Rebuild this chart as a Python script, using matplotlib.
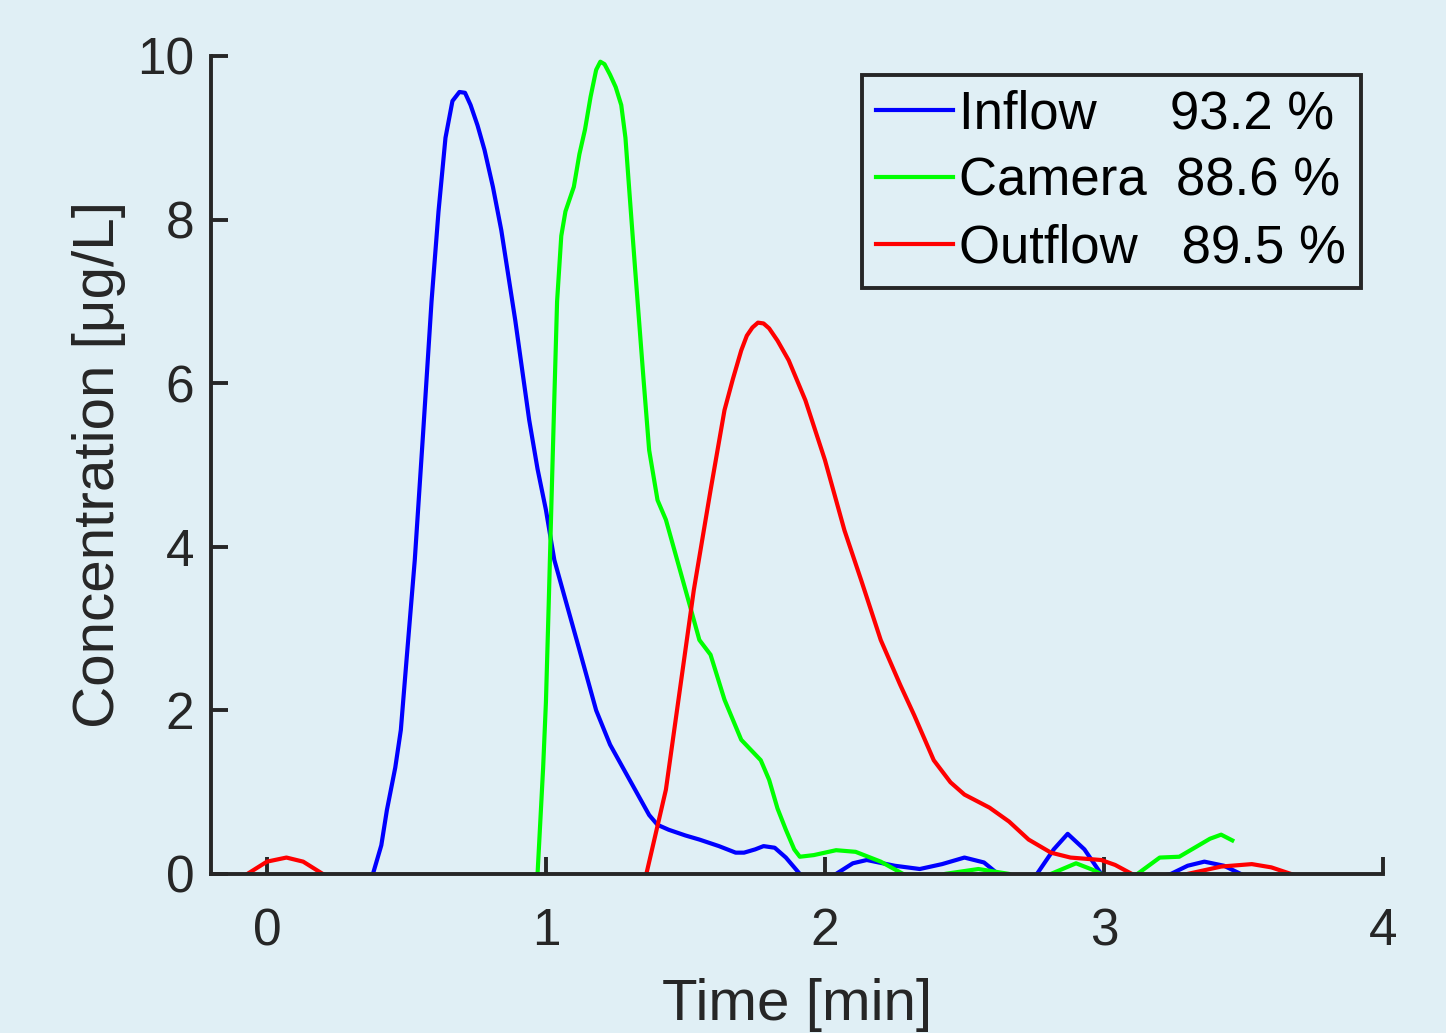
import numpy as np
import matplotlib
matplotlib.use("Agg")
import matplotlib.pyplot as plt

plt.rcParams['font.family'] = ['Liberation Sans', 'DejaVu Sans']

# values (time in min, concentration in ug/L)
inflow_t = [0.38, 0.41, 0.43, 0.46, 0.48, 0.50, 0.53, 0.56, 0.59, 0.615, 0.64, 0.665, 0.69,
            0.71, 0.73, 0.755, 0.78, 0.81, 0.84, 0.89, 0.94, 0.97, 1.00, 1.03, 1.07, 1.12,
            1.18, 1.23, 1.30, 1.37, 1.40, 1.44, 1.50, 1.55, 1.62, 1.68, 1.71, 1.75, 1.78,
            1.82, 1.86, 1.91, 1.97, 2.04, 2.10, 2.15, 2.25, 2.34, 2.42, 2.50, 2.57, 2.62,
            2.69, 2.76, 2.82, 2.87, 2.93, 2.99, 3.10, 3.24, 3.30, 3.36, 3.43, 3.49, 3.52]
inflow_c = [0.0, 0.35, 0.78, 1.3, 1.76, 2.6, 3.84, 5.4, 7.0, 8.1, 9.0, 9.45, 9.56,
            9.55, 9.4, 9.15, 8.85, 8.4, 7.87, 6.77, 5.55, 4.95, 4.45, 3.84, 3.35, 2.74,
            2.0, 1.58, 1.15, 0.72, 0.6, 0.54, 0.47, 0.42, 0.34, 0.26, 0.26, 0.3, 0.34,
            0.32, 0.2, 0.0, -0.1, 0.0, 0.13, 0.17, 0.1, 0.06, 0.12, 0.2, 0.14, 0.0,
            -0.1, 0.0, 0.3, 0.49, 0.3, 0.0, -0.1, 0.0, 0.1, 0.15, 0.1, 0.0, -0.05]

camera_t = [0.97, 0.99, 1.00, 1.01, 1.02, 1.03, 1.04, 1.055, 1.07, 1.10, 1.12, 1.14, 1.16,
            1.18, 1.195, 1.21, 1.23, 1.25, 1.27, 1.285, 1.30, 1.32, 1.35, 1.37, 1.40, 1.43,
            1.48, 1.52, 1.55, 1.59, 1.64, 1.70, 1.77, 1.80, 1.83, 1.86, 1.89, 1.91, 1.96,
            2.04, 2.11, 2.20, 2.28, 2.36, 2.43, 2.55, 2.66, 2.72, 2.81, 2.90, 2.96, 2.99,
            3.06, 3.12, 3.20, 3.27, 3.33, 3.38, 3.42, 3.46]
camera_c = [0.0, 1.3, 2.1, 3.3, 4.57, 5.8, 7.0, 7.8, 8.1, 8.4, 8.8, 9.1, 9.5,
            9.83, 9.93, 9.9, 9.77, 9.62, 9.4, 9.0, 8.3, 7.38, 6.04, 5.18, 4.57, 4.33,
            3.72, 3.23, 2.86, 2.68, 2.13, 1.64, 1.39, 1.15, 0.8, 0.54, 0.3, 0.21, 0.23,
            0.29, 0.27, 0.15, 0.0, -0.1, 0.0, 0.06, 0.0, -0.1, 0.0, 0.13, 0.05, 0.0,
            -0.1, 0.0, 0.2, 0.21, 0.33, 0.43, 0.48, 0.41]

outflow_t = [-0.07, 0.0, 0.07, 0.13, 0.20, 0.26, 1.30, 1.36, 1.43, 1.48, 1.53, 1.59, 1.64,
             1.67, 1.70, 1.72, 1.74, 1.76, 1.78, 1.80, 1.83, 1.87, 1.93, 2.00, 2.07, 2.13,
             2.20, 2.27, 2.32, 2.39, 2.45, 2.50, 2.59, 2.66, 2.73, 2.81, 2.88, 2.99, 3.04,
             3.10, 3.18, 3.30, 3.42, 3.53, 3.60, 3.67, 3.72]
outflow_c = [0.0, 0.15, 0.2, 0.15, 0.0, -0.1, -0.1, 0.0, 1.03, 2.25, 3.47, 4.69, 5.67,
             6.05, 6.4, 6.58, 6.68, 6.74, 6.73, 6.67, 6.52, 6.28, 5.79, 5.06, 4.2, 3.59,
             2.86, 2.31, 1.94, 1.39, 1.12, 0.97, 0.81, 0.64, 0.42, 0.26, 0.2, 0.17, 0.11,
             0.0, -0.1, 0.0, 0.09, 0.12, 0.08, 0.0, -0.05]

labels = ['Inflow     93.2 %', 'Camera  88.6 %', 'Outflow   89.5 %']

bg = '#e0eff5'
ink = '#262626'

fig = plt.figure(figsize=(14.46, 10.33), dpi=100, facecolor=bg)
ax = fig.add_axes([0.146, 0.154, 0.8104, 0.7918])
ax.set_facecolor(bg)

ax.plot(inflow_t, inflow_c, color='#0000ff', lw=3, label=labels[0])
ax.plot(camera_t, camera_c, color='#00ff00', lw=3, label=labels[1])
ax.plot(outflow_t, outflow_c, color='#ff0000', lw=3, label=labels[2])

ax.set_xlim(-0.2, 4)
ax.set_ylim(0, 10)
ax.set_xticks([0, 1, 2, 3, 4])
ax.set_yticks([0, 2, 4, 6, 8, 10])

for s in ['top', 'right']:
    ax.spines[s].set_visible(False)
for s in ['left', 'bottom']:
    ax.spines[s].set_color(ink)
    ax.spines[s].set_linewidth(2.8)

ax.tick_params(direction='in', length=12, width=2.8, color=ink,
               labelsize=37, labelcolor=ink)
ax.tick_params(axis='x', pad=24)
ax.tick_params(axis='y', pad=12)

ax.set_xlabel('Time [min]', fontsize=42, color=ink, labelpad=16)
ax.set_ylabel('Concentration [μg/L]', fontsize=42, color=ink, labelpad=8)

leg = ax.legend(loc='upper right', bbox_to_anchor=(0.9412, 0.9274),
                bbox_transform=fig.transFigure, borderaxespad=0,
                fontsize=38, handlelength=1.45, handletextpad=0.12,
                labelspacing=0.32, borderpad=0.28, fancybox=False,
                framealpha=1, facecolor=bg, edgecolor=ink)
leg.get_frame().set_linewidth(2.8)
for line in leg.get_lines():
    line.set_linewidth(3)
for txt in leg.get_texts():
    txt.set_color('black')

fig.savefig('out.png', dpi=100, facecolor=bg)
